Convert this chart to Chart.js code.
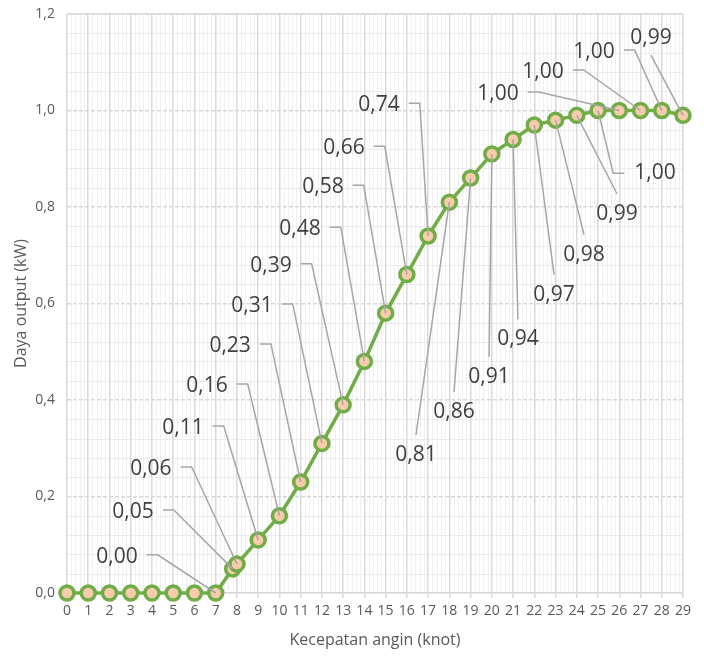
<!DOCTYPE html>
<html>
<head>
<meta charset="utf-8">
<script src="https://cdn.jsdelivr.net/npm/chart.js@4.4.0/dist/chart.umd.min.js"></script>
<style>
html, body { margin: 0; padding: 0; background: #fff; }
#wrap { width: 704px; height: 656px; }
</style>
</head>
<body>
<div id="wrap"><canvas id="powerChart"></canvas></div>
<script>
// kecepatan angin (knot) vs daya output (kW)
var windSpeed = [0, 1, 2, 3, 4, 5, 6, 7, 7.8, 8, 9, 10, 11, 12, 13, 14, 15, 16, 17, 18, 19, 20, 21, 22, 23, 24, 25, 26, 27, 28, 29];
var powerOut = [0, 0, 0, 0, 0, 0, 0, 0, 0.05, 0.06, 0.11, 0.16, 0.23, 0.31, 0.39, 0.48, 0.58, 0.66, 0.74, 0.81, 0.86, 0.91, 0.94, 0.97, 0.98, 0.99, 1.00, 1.00, 1.00, 1.00, 0.99];
var yTicks = [0, 0.2, 0.4, 0.6, 0.8, 1.0, 1.2];

// where each data label sits (in axis units) and which side its leader line leaves from
var calloutX = [null, null, null, null, null, null, null, 2.35, 3.11, 3.95, 5.46, 6.59, 7.68, 8.71, 9.60, 10.97, 12.05, 13.04, 14.69, 16.43, 18.22, 19.87, 21.23, 22.93, 24.34, 25.89, 27.68, 20.29, 22.41, 24.81, 27.49];
var calloutY = [null, null, null, null, null, null, null, 0.075, 0.168, 0.257, 0.342, 0.429, 0.512, 0.595, 0.678, 0.754, 0.841, 0.922, 1.011, 0.286, 0.375, 0.448, 0.526, 0.618, 0.701, 0.786, 0.870, 1.034, 1.080, 1.121, 1.150];
var calloutSide = [null, null, null, null, null, null, null, 'l', 'l', 'l', 'l', 'l', 'l', 'l', 'l', 'l', 'l', 'l', 'l', 'b', 'b', 'b', 'b', 'b', 'b', 'b', 'r', 'l', 'l', 'l', 't'];

var points = windSpeed.map(function(x, i) {
    return { x: x, y: powerOut[i] };
});

function commaNum(v, d) {
    return v.toFixed(d).replace('.', ',');
}

// light minor grid behind everything
var minorGrid = {
    id: 'minorGrid',
    beforeDraw: function(chart) {
        var ctx = chart.ctx;
        var xs = chart.scales.x, ys = chart.scales.y;
        var area = chart.chartArea;
        ctx.save();
        ctx.lineWidth = 1;
        ctx.strokeStyle = '#f0f0f0';
        for (var k = 0; k <= 29 * 5; k++) {
            if (k % 5 === 0) continue;
            var px = Math.round(xs.getPixelForValue(k / 5)) + 0.5;
            ctx.beginPath();
            ctx.moveTo(px, area.top);
            ctx.lineTo(px, area.bottom);
            ctx.stroke();
        }
        ctx.strokeStyle = '#ececec';
        for (var j = 0; j <= 30; j++) {
            if (j % 5 === 0) continue;
            var py = Math.round(ys.getPixelForValue(j * 0.04)) + 0.5;
            ctx.beginPath();
            ctx.moveTo(area.left, py);
            ctx.lineTo(area.right, py);
            ctx.stroke();
        }
        ctx.restore();
    },
    beforeDatasetsDraw: function(chart) {
        // solid top edge of the plot
        var ctx = chart.ctx, area = chart.chartArea;
        ctx.save();
        ctx.strokeStyle = '#d9d9d9';
        ctx.lineWidth = 1.5;
        ctx.beginPath();
        ctx.moveTo(area.left, area.top);
        ctx.lineTo(area.right, area.top);
        ctx.stroke();
        ctx.restore();
    }
};

// data labels with leader lines
var callouts = {
    id: 'callouts',
    afterDatasetsDraw: function(chart) {
        var ctx = chart.ctx;
        var xs = chart.scales.x, ys = chart.scales.y;
        ctx.save();
        ctx.font = '21px "Open Sans"';
        ctx.textAlign = 'center';
        ctx.textBaseline = 'middle';
        for (var i = 0; i < points.length; i++) {
            if (calloutSide[i] === null) continue;
            var text = commaNum(powerOut[i], 2);
            var w = ctx.measureText(text).width;
            var cx = xs.getPixelForValue(calloutX[i]);
            var cy = ys.getPixelForValue(calloutY[i]);
            var px = xs.getPixelForValue(windSpeed[i]);
            var py = ys.getPixelForValue(powerOut[i]);

            ctx.strokeStyle = '#a6a6a6';
            ctx.lineWidth = 1.5;
            ctx.beginPath();
            var side = calloutSide[i];
            if (side === 'l') {
                var sx = cx + w / 2 + 9;
                ctx.moveTo(sx, cy - 2);
                ctx.lineTo(sx + 11, cy - 2);
                ctx.lineTo(px, py);
            } else if (side === 'r') {
                var rx = cx - w / 2 - 10;
                ctx.moveTo(rx, cy);
                ctx.lineTo(rx - 11, cy);
                ctx.lineTo(px, py);
            } else if (side === 'b') {
                ctx.moveTo(cx, cy - 20);
                ctx.lineTo(px, py);
            } else {
                ctx.moveTo(cx, cy + 17);
                ctx.lineTo(px, py);
            }
            ctx.stroke();

            ctx.fillStyle = '#404040';
            ctx.fillText(text, cx, cy);
        }
        ctx.restore();
    }
};

var ctxPower = document.getElementById('powerChart');
var powerChart = new Chart(ctxPower, {
    type: 'scatter',
    data: {
        datasets: [
            {
                label: 'Daya output',
                data: points,
                showLine: true,
                clip: false,
                borderColor: '#70ad47',
                borderWidth: 3.5,
                pointRadius: 7,
                pointHoverRadius: 7,
                pointBorderWidth: 3.5,
                pointBorderColor: '#70ad47',
                pointBackgroundColor: '#f8cbad'
            }
        ]
    },
    options: {
        responsive: true,
        maintainAspectRatio: false,
        animation: false,
        layout: { padding: { left: 8, right: 21, top: 14, bottom: 2 } },
        plugins: {
            legend: { display: false },
            tooltip: { enabled: false }
        },
        scales: {
            x: {
                type: 'linear',
                min: 0,
                max: 29,
                afterFit: function(scale) {
                    scale.height = 61;
                    scale.paddingLeft = 0;
                    scale.paddingRight = 0;
                },
                ticks: {
                    stepSize: 1,
                    autoSkip: false,
                    maxRotation: 0,
                    padding: 5,
                    color: '#595959',
                    font: { family: 'Open Sans', size: 14 }
                },
                grid: {
                    color: '#d9d9d9',
                    lineWidth: 1.5,
                    tickLength: 5,
                    tickColor: '#d9d9d9'
                },
                border: { color: '#d9d9d9', width: 1.5 },
                title: {
                    display: true,
                    text: 'Kecepatan angin (knot)',
                    color: '#595959',
                    font: { family: 'Open Sans', size: 16 }
                }
            },
            y: {
                min: 0,
                max: 1.2,
                afterFit: function(scale) {
                    scale.width = 59;
                    scale.paddingTop = 0;
                    scale.paddingBottom = 0;
                },
                afterBuildTicks: function(scale) {
                    scale.ticks = yTicks.map(function(v) { return { value: v }; });
                },
                ticks: {
                    padding: 12,
                    color: '#595959',
                    font: { family: 'Open Sans', size: 14 },
                    callback: function(v) { return commaNum(v, 1); }
                },
                grid: {
                    color: '#d9d9d9',
                    lineWidth: 1.5,
                    drawTicks: false
                },
                border: { display: false, dash: [4, 2] },
                title: {
                    display: true,
                    text: 'Daya output (kW)',
                    color: '#595959',
                    font: { family: 'Open Sans', size: 16 }
                }
            }
        }
    },
    plugins: [minorGrid, callouts]
});
</script>
</body>
</html>
